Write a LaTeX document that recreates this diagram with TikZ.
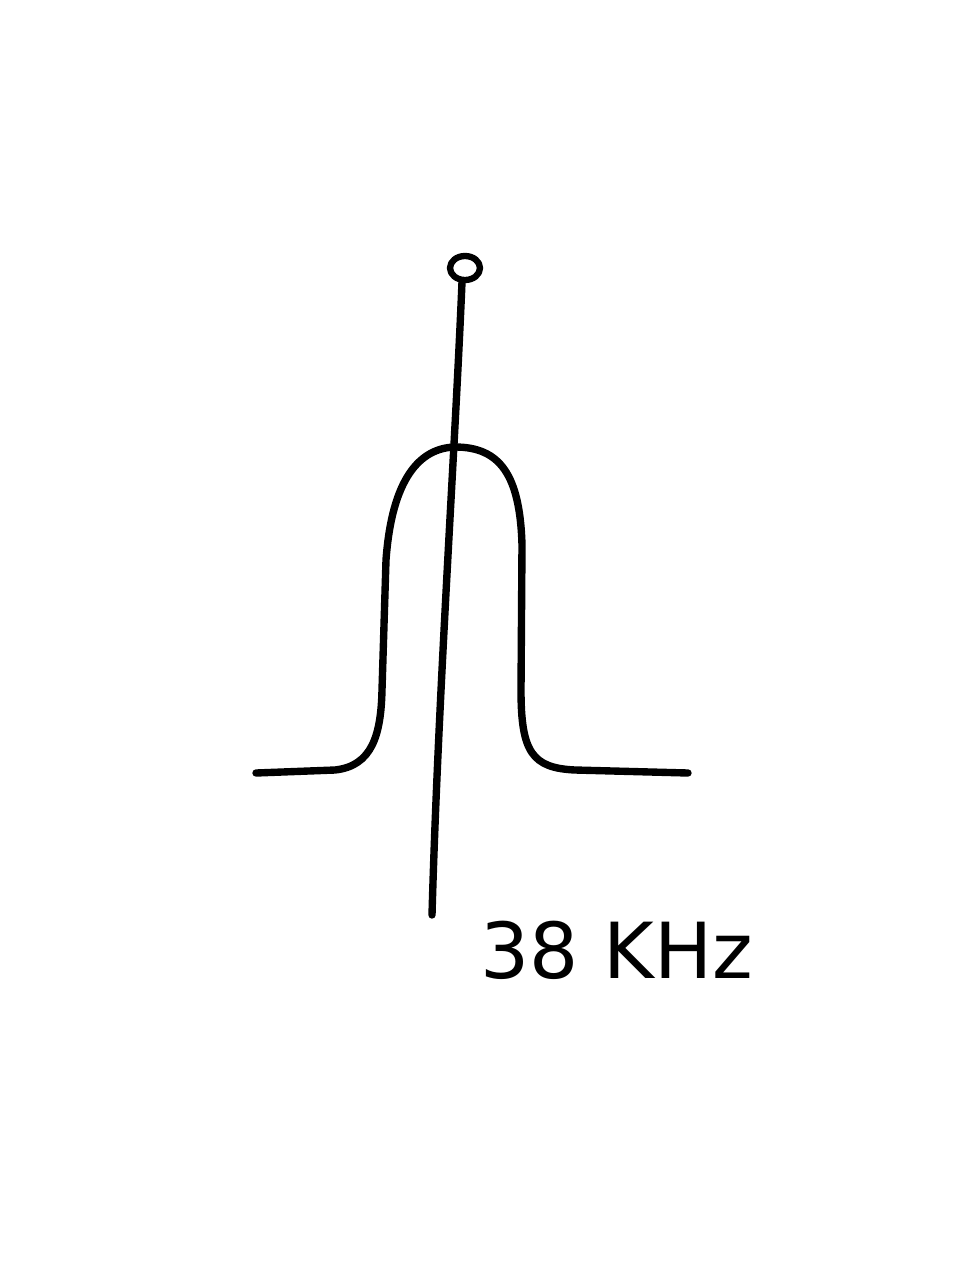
\documentclass[tikz,border=0pt]{standalone}
\usepackage{fontspec}
\setmainfont{DejaVu Sans}
\begin{document}
\begin{tikzpicture}[x=0.1mm,y=-0.1mm,
  pen/.style={line width=2.1pt,line cap=round,line join=round,black},
  lbl/.style={font=\fontsize{22}{26}\selectfont,anchor=center}]
\useasboundingbox (0,0) rectangle (960,1280);
% small circle at top of carrier line
\draw[pen,line width=1.8pt] (465,268) ellipse [x radius=15, y radius=12];
% carrier line (slightly slanted)
\coordinate (ctop) at (462,282);
\coordinate (cbot) at (432,915);
\draw[pen] (ctop) .. controls (455,450) and (438,700) .. (cbot);
% band-pass bell curve
\draw[pen] (256,773) -- (335,770)
  .. controls (372,766) and (381,735) .. (382,690)
  -- (386,560)
  .. controls (392,478) and (420,448) .. (455,447)
  .. controls (500,447) and (520,475) .. (522,545)
  -- (521,690)
  .. controls (521,752) and (532,768) .. (575,770)
  -- (688,773);
% label
\node[lbl] (freq) at (617,950) {38 KHz};
\end{tikzpicture}
\end{document}
